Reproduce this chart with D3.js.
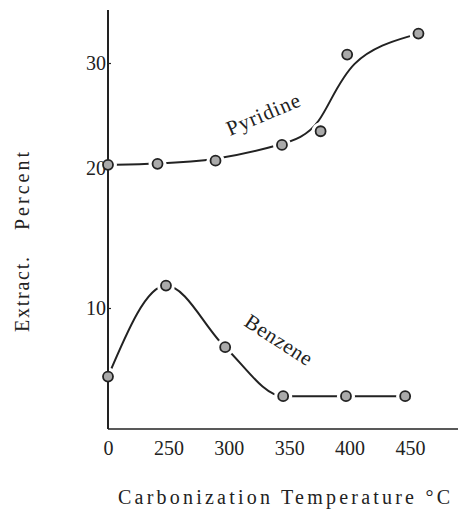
<!DOCTYPE html>
<html>
<head>
<meta charset="utf-8">
<script src="https://cdn.jsdelivr.net/npm/d3@7"></script>
<style>
  body { margin: 0; background: #fff; }
  svg text { font-family: "Liberation Serif", "DejaVu Serif", serif; fill: #222; }
</style>
</head>
<body>
<svg id="svg" width="458" height="511"></svg>
<script>
// data (temperature, extract %)
const xTicks = [200, 250, 300, 350, 400, 450];
const xTickLabels = ["0", "250", "300", "350", "400", "450"];
const yTicks = [10, 20, 30];

const pyridineTemp = [200, 241, 289, 344, 376, 398, 457];
const pyridineExtract = [20.3, 20.4, 20.7, 22.2, 23.5, 30.8, 32.8];

const benzeneTemp = [200, 248, 297, 345, 397, 446];
const benzeneExtract = [5.1, 11.6, 7.2, 3.7, 3.7, 3.7];

const ink = '#222';
const svg = d3.select('#svg');

// x axis: origin is labelled 0, then 250..450
const x = d3.scaleLinear().domain([200, 450]).range([108, 410]);
// y axis on the plate is not evenly spaced, so map it piecewise
const y = d3.scaleLinear().domain([0, 10, 20, 30]).range([448, 308, 168, 63]);

const axisY = 429;

const pyr = pyridineTemp.map((t, i) => ({ t: t, v: pyridineExtract[i] }));
const ben = benzeneTemp.map((t, i) => ({ t: t, v: benzeneExtract[i] }));

// curves
const pyrLine = d3.line().x(d => x(d.t)).y(d => y(d.v)).curve(d3.curveBasis);
const benLine = d3.line().x(d => x(d.t)).y(d => y(d.v)).curve(d3.curveMonotoneX);

svg.append('path')
  .attr('d', pyrLine(pyr))
  .attr('fill', 'none')
  .attr('stroke', ink)
  .attr('stroke-width', 2);

svg.append('path')
  .attr('d', benLine(ben))
  .attr('fill', 'none')
  .attr('stroke', ink)
  .attr('stroke-width', 2);

// white gaps round the markers
const all = pyr.concat(ben);
svg.append('g').selectAll('circle')
  .data(all)
  .enter()
  .append('circle')
  .attr('cx', d => x(d.t))
  .attr('cy', d => y(d.v))
  .attr('r', 9)
  .attr('fill', '#fff');

// axis lines
svg.append('line')
  .attr('x1', x(200)).attr('x2', 458)
  .attr('y1', axisY).attr('y2', axisY)
  .attr('stroke', ink)
  .attr('stroke-width', 1.5);

svg.append('line')
  .attr('x1', x(200)).attr('x2', x(200))
  .attr('y1', 10).attr('y2', axisY)
  .attr('stroke', ink)
  .attr('stroke-width', 2);

// y ticks (small, right side) + labels
const yAxis = svg.append('g')
  .attr('transform', 'translate(' + x(200) + ',0)')
  .call(d3.axisRight(y).tickValues(yTicks).tickSize(3).tickFormat(''));
yAxis.select('.domain').remove();
yAxis.selectAll('line').attr('stroke', ink).attr('stroke-width', 1.2);

const yLab = svg.append('g')
  .attr('transform', 'translate(' + x(200) + ',0)')
  .call(d3.axisLeft(y).tickValues(yTicks).tickSize(0).tickPadding(2));
yLab.select('.domain').remove();
yLab.selectAll('text')
  .style('font-size', '20px')
  .style('font-family', '"Liberation Serif", serif')
  .attr('fill', ink);

// x labels
const xLab = svg.append('g')
  .attr('transform', 'translate(0,' + axisY + ')')
  .call(d3.axisBottom(x).tickValues(xTicks).tickSize(0).tickPadding(12)
    .tickFormat((d, i) => xTickLabels[i]));
xLab.select('.domain').remove();
xLab.selectAll('text')
  .style('font-size', '20px')
  .style('font-family', '"Liberation Serif", serif')
  .attr('fill', ink);

// markers
svg.append('g').selectAll('circle')
  .data(all)
  .enter()
  .append('circle')
  .attr('cx', d => x(d.t))
  .attr('cy', d => y(d.v))
  .attr('r', 5)
  .attr('fill', '#aaa')
  .attr('stroke', ink)
  .attr('stroke-width', 1.8);

// series labels
svg.append('text')
  .attr('transform', 'translate(230,136) rotate(-23)')
  .attr('textLength', 78)
  .attr('lengthAdjust', 'spacing')
  .style('font-size', '21px')
  .text('Pyridine');

svg.append('text')
  .attr('transform', 'translate(243,325) rotate(33)')
  .attr('textLength', 76)
  .attr('lengthAdjust', 'spacing')
  .style('font-size', '21px')
  .text('Benzene');

// axis titles
svg.append('text')
  .attr('x', 118)
  .attr('y', 504)
  .attr('textLength', 332)
  .attr('lengthAdjust', 'spacing')
  .style('font-size', '20px')
  .text('Carbonization Temperature \u00b0C');

svg.append('text')
  .attr('transform', 'translate(29,332) rotate(-90)')
  .attr('textLength', 75)
  .attr('lengthAdjust', 'spacing')
  .style('font-size', '20px')
  .text('Extract.');

svg.append('text')
  .attr('transform', 'translate(29,230) rotate(-90)')
  .attr('textLength', 78)
  .attr('lengthAdjust', 'spacing')
  .style('font-size', '20px')
  .text('Percent');
</script>
</body>
</html>
